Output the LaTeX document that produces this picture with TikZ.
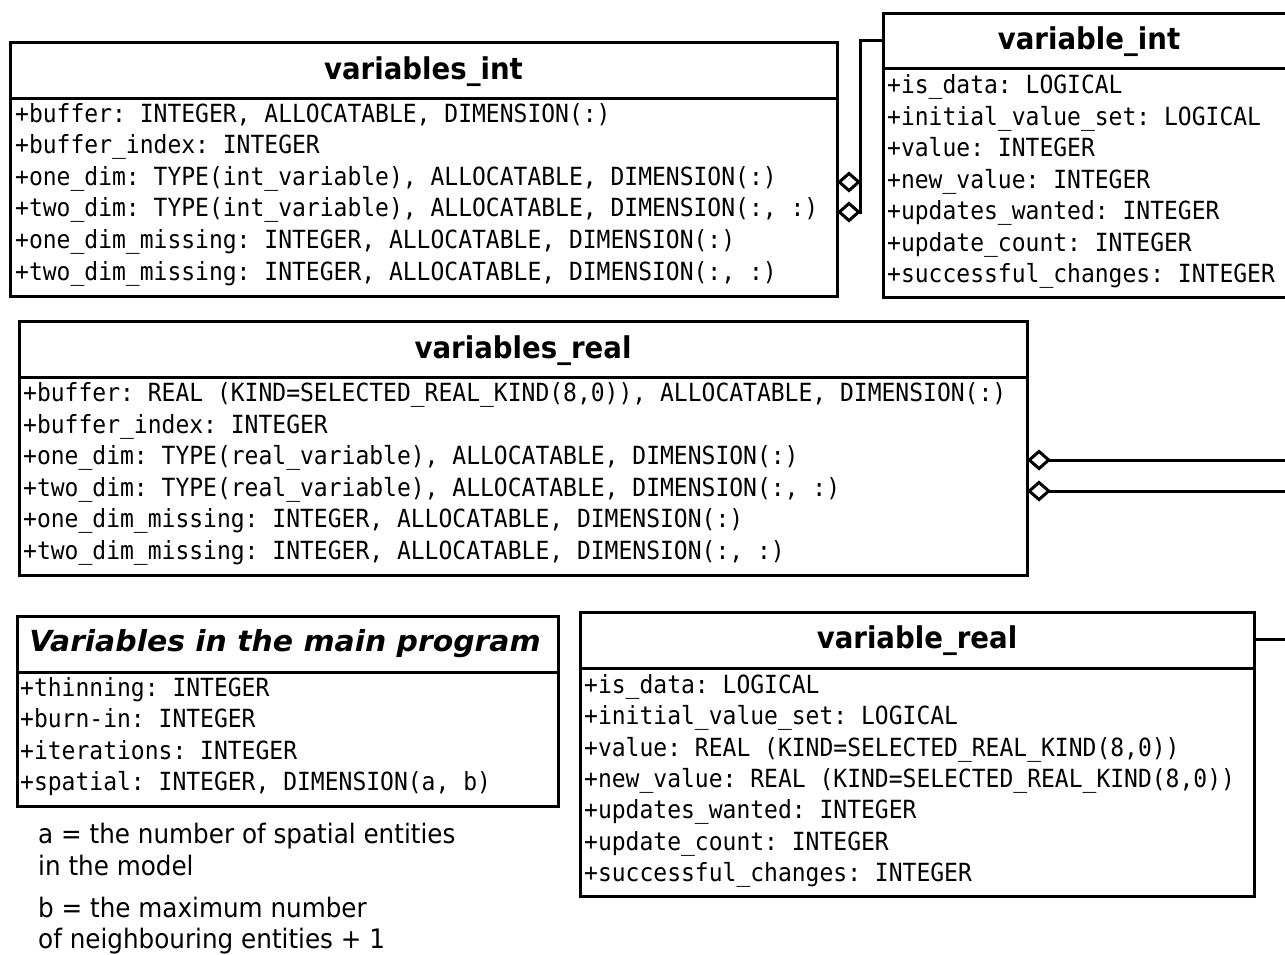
\documentclass[tikz,border=0pt]{standalone}
\usepackage{fontspec}
\usetikzlibrary{arrows.meta}
\newfontfamily\attrfont[FakeStretch=0.92]{DejaVu Sans Mono}
\newfontfamily\titlefont[FakeStretch=0.92]{DejaVu Sans Bold}
\newfontfamily\abstractfont[FakeStretch=1.03]{DejaVu Sans Bold Oblique}
\newfontfamily\notefont[FakeStretch=0.92]{DejaVu Sans}
\frenchspacing
% a block of lines with a fixed line pitch; its baseline is the first line's
\newcommand\linesblock[2]{\vtop{\baselineskip=#1\relax\lineskiplimit=-20pt\lineskip=0pt #2}}
\tikzset{
  classbox/.style={draw, line width=3pt, fill=white, inner sep=0pt, outer sep=0pt, anchor=north west},
  sepline/.style={line width=3pt},
  classtitle/.style={anchor=base, inner sep=0pt, font=\titlefont\fontsize{30}{36}\selectfont},
  abstracttitle/.style={anchor=base, inner sep=0pt, font=\abstractfont\fontsize{29}{35}\selectfont},
  attrs/.style={anchor=base west, inner sep=0pt, font=\attrfont\fontsize{25}{31}\selectfont},
  note/.style={anchor=base west, inner sep=0pt, font=\notefont\fontsize{26.8}{32}\selectfont},
  agg/.style={line width=3pt, {Diamond[open,length=24pt,width=21pt]}-},
  assoc/.style={line width=3pt}
}
\begin{document}
\begin{tikzpicture}[x=1pt, y=-1pt]
\useasboundingbox (0,0) rectangle (1285,954);
\fill[white] (0,0) rectangle (1285,954);
\clip (0,0) rectangle (1285,954);

% ---- variables_int ----
\node[classbox, minimum width=827pt, minimum height=254pt] (vint) at (10,42) {};
\draw[sepline] (vint.west |- 0,98) -- (vint.east |- 0,98);
\node[classtitle] (vint-title) at (423.5,79.3) {variables\_int};
\node[attrs] (vint-attrs) at (15,122) {\linesblock{31.6pt}{%
  \hbox{+buffer: INTEGER, ALLOCATABLE, DIMENSION(:)}
  \hbox{+buffer\_index: INTEGER}
  \hbox{+one\_dim: TYPE(int\_variable), ALLOCATABLE, DIMENSION(:)}
  \hbox{+two\_dim: TYPE(int\_variable), ALLOCATABLE, DIMENSION(:, :)}
  \hbox{+one\_dim\_missing: INTEGER, ALLOCATABLE, DIMENSION(:)}
  \hbox{+two\_dim\_missing: INTEGER, ALLOCATABLE, DIMENSION(:, :)}}};

% ---- variable_int ----
\node[classbox, minimum width=412pt, minimum height=284pt] (varint) at (883,13) {};
\draw[sepline] (varint.west |- 0,68) -- (varint.east |- 0,68);
\node[classtitle] (varint-title) at (1089,49.5) {variable\_int};
\node[attrs] (varint-attrs) at (887,93.5) {\linesblock{31.5pt}{%
  \hbox{+is\_data: LOGICAL}
  \hbox{+initial\_value\_set: LOGICAL}
  \hbox{+value: INTEGER}
  \hbox{+new\_value: INTEGER}
  \hbox{+updates\_wanted: INTEGER}
  \hbox{+update\_count: INTEGER}
  \hbox{+successful\_changes: INTEGER}}};

% ---- variables_real ----
\node[classbox, minimum width=1008pt, minimum height=254pt] (vreal) at (19,321) {};
\draw[sepline] (vreal.west |- 0,377) -- (vreal.east |- 0,377);
\node[classtitle] (vreal-title) at (523,358.5) {variables\_real};
\node[attrs] (vreal-attrs) at (23,401.5) {\linesblock{31.6pt}{%
  \hbox{+buffer: REAL (KIND=SELECTED\_REAL\_KIND(8,0)), ALLOCATABLE, DIMENSION(:)}
  \hbox{+buffer\_index: INTEGER}
  \hbox{+one\_dim: TYPE(real\_variable), ALLOCATABLE, DIMENSION(:)}
  \hbox{+two\_dim: TYPE(real\_variable), ALLOCATABLE, DIMENSION(:, :)}
  \hbox{+one\_dim\_missing: INTEGER, ALLOCATABLE, DIMENSION(:)}
  \hbox{+two\_dim\_missing: INTEGER, ALLOCATABLE, DIMENSION(:, :)}}};

% ---- main program variables ----
\node[classbox, minimum width=541pt, minimum height=190pt] (mainp) at (17,616) {};
\draw[sepline] (mainp.west |- 0,672) -- (mainp.east |- 0,672);
\node[abstracttitle] (mainp-title) at (285,651.7) {Variables in the main program};
\node[attrs] (mainp-attrs) at (20,696.5) {\linesblock{31.3pt}{%
  \hbox{+thinning: INTEGER}
  \hbox{+burn-in: INTEGER}
  \hbox{+iterations: INTEGER}
  \hbox{+spatial: INTEGER, DIMENSION(a, b)}}};

% ---- variable_real ----
\node[classbox, minimum width=674pt, minimum height=284pt] (varreal) at (580,612) {};
\draw[sepline] (varreal.west |- 0,668) -- (varreal.east |- 0,668);
\node[classtitle] (varreal-title) at (917,648.5) {variable\_real};
\node[attrs] (varreal-attrs) at (584,693.5) {\linesblock{31.33pt}{%
  \hbox{+is\_data: LOGICAL}
  \hbox{+initial\_value\_set: LOGICAL}
  \hbox{+value: REAL (KIND=SELECTED\_REAL\_KIND(8,0))}
  \hbox{+new\_value: REAL (KIND=SELECTED\_REAL\_KIND(8,0))}
  \hbox{+updates\_wanted: INTEGER}
  \hbox{+update\_count: INTEGER}
  \hbox{+successful\_changes: INTEGER}}};

% ---- notes on the array dimensions ----
\node[note] (note-a) at (38,843.5) {\linesblock{32pt}{%
  \hbox{a = the number of spatial entities}
  \hbox{in the model}}};
\node[note] (note-b) at (38,917.5) {\linesblock{31pt}{%
  \hbox{b = the maximum number}
  \hbox{of neighbouring entities + 1}}};

% ---- connectors ----
\coordinate (bend) at (860,0);
\draw[agg] (vint.east |- 0,182) -- (bend |- 0,182) |- (varint.west |- 0,40);
\draw[agg] (vint.east |- 0,212) -- (bend |- 0,212) |- (varint.west |- 0,40);

\coordinate (off-one) at (1300,460);
\coordinate (off-two) at (1300,491);
\coordinate (off-var) at (1300,639);
\draw[agg] (vreal.east |- off-one) -- (off-one);
\draw[agg] (vreal.east |- off-two) -- (off-two);
\draw[assoc] (varreal.east |- off-var) -- (off-var);
\end{tikzpicture}
\end{document}
